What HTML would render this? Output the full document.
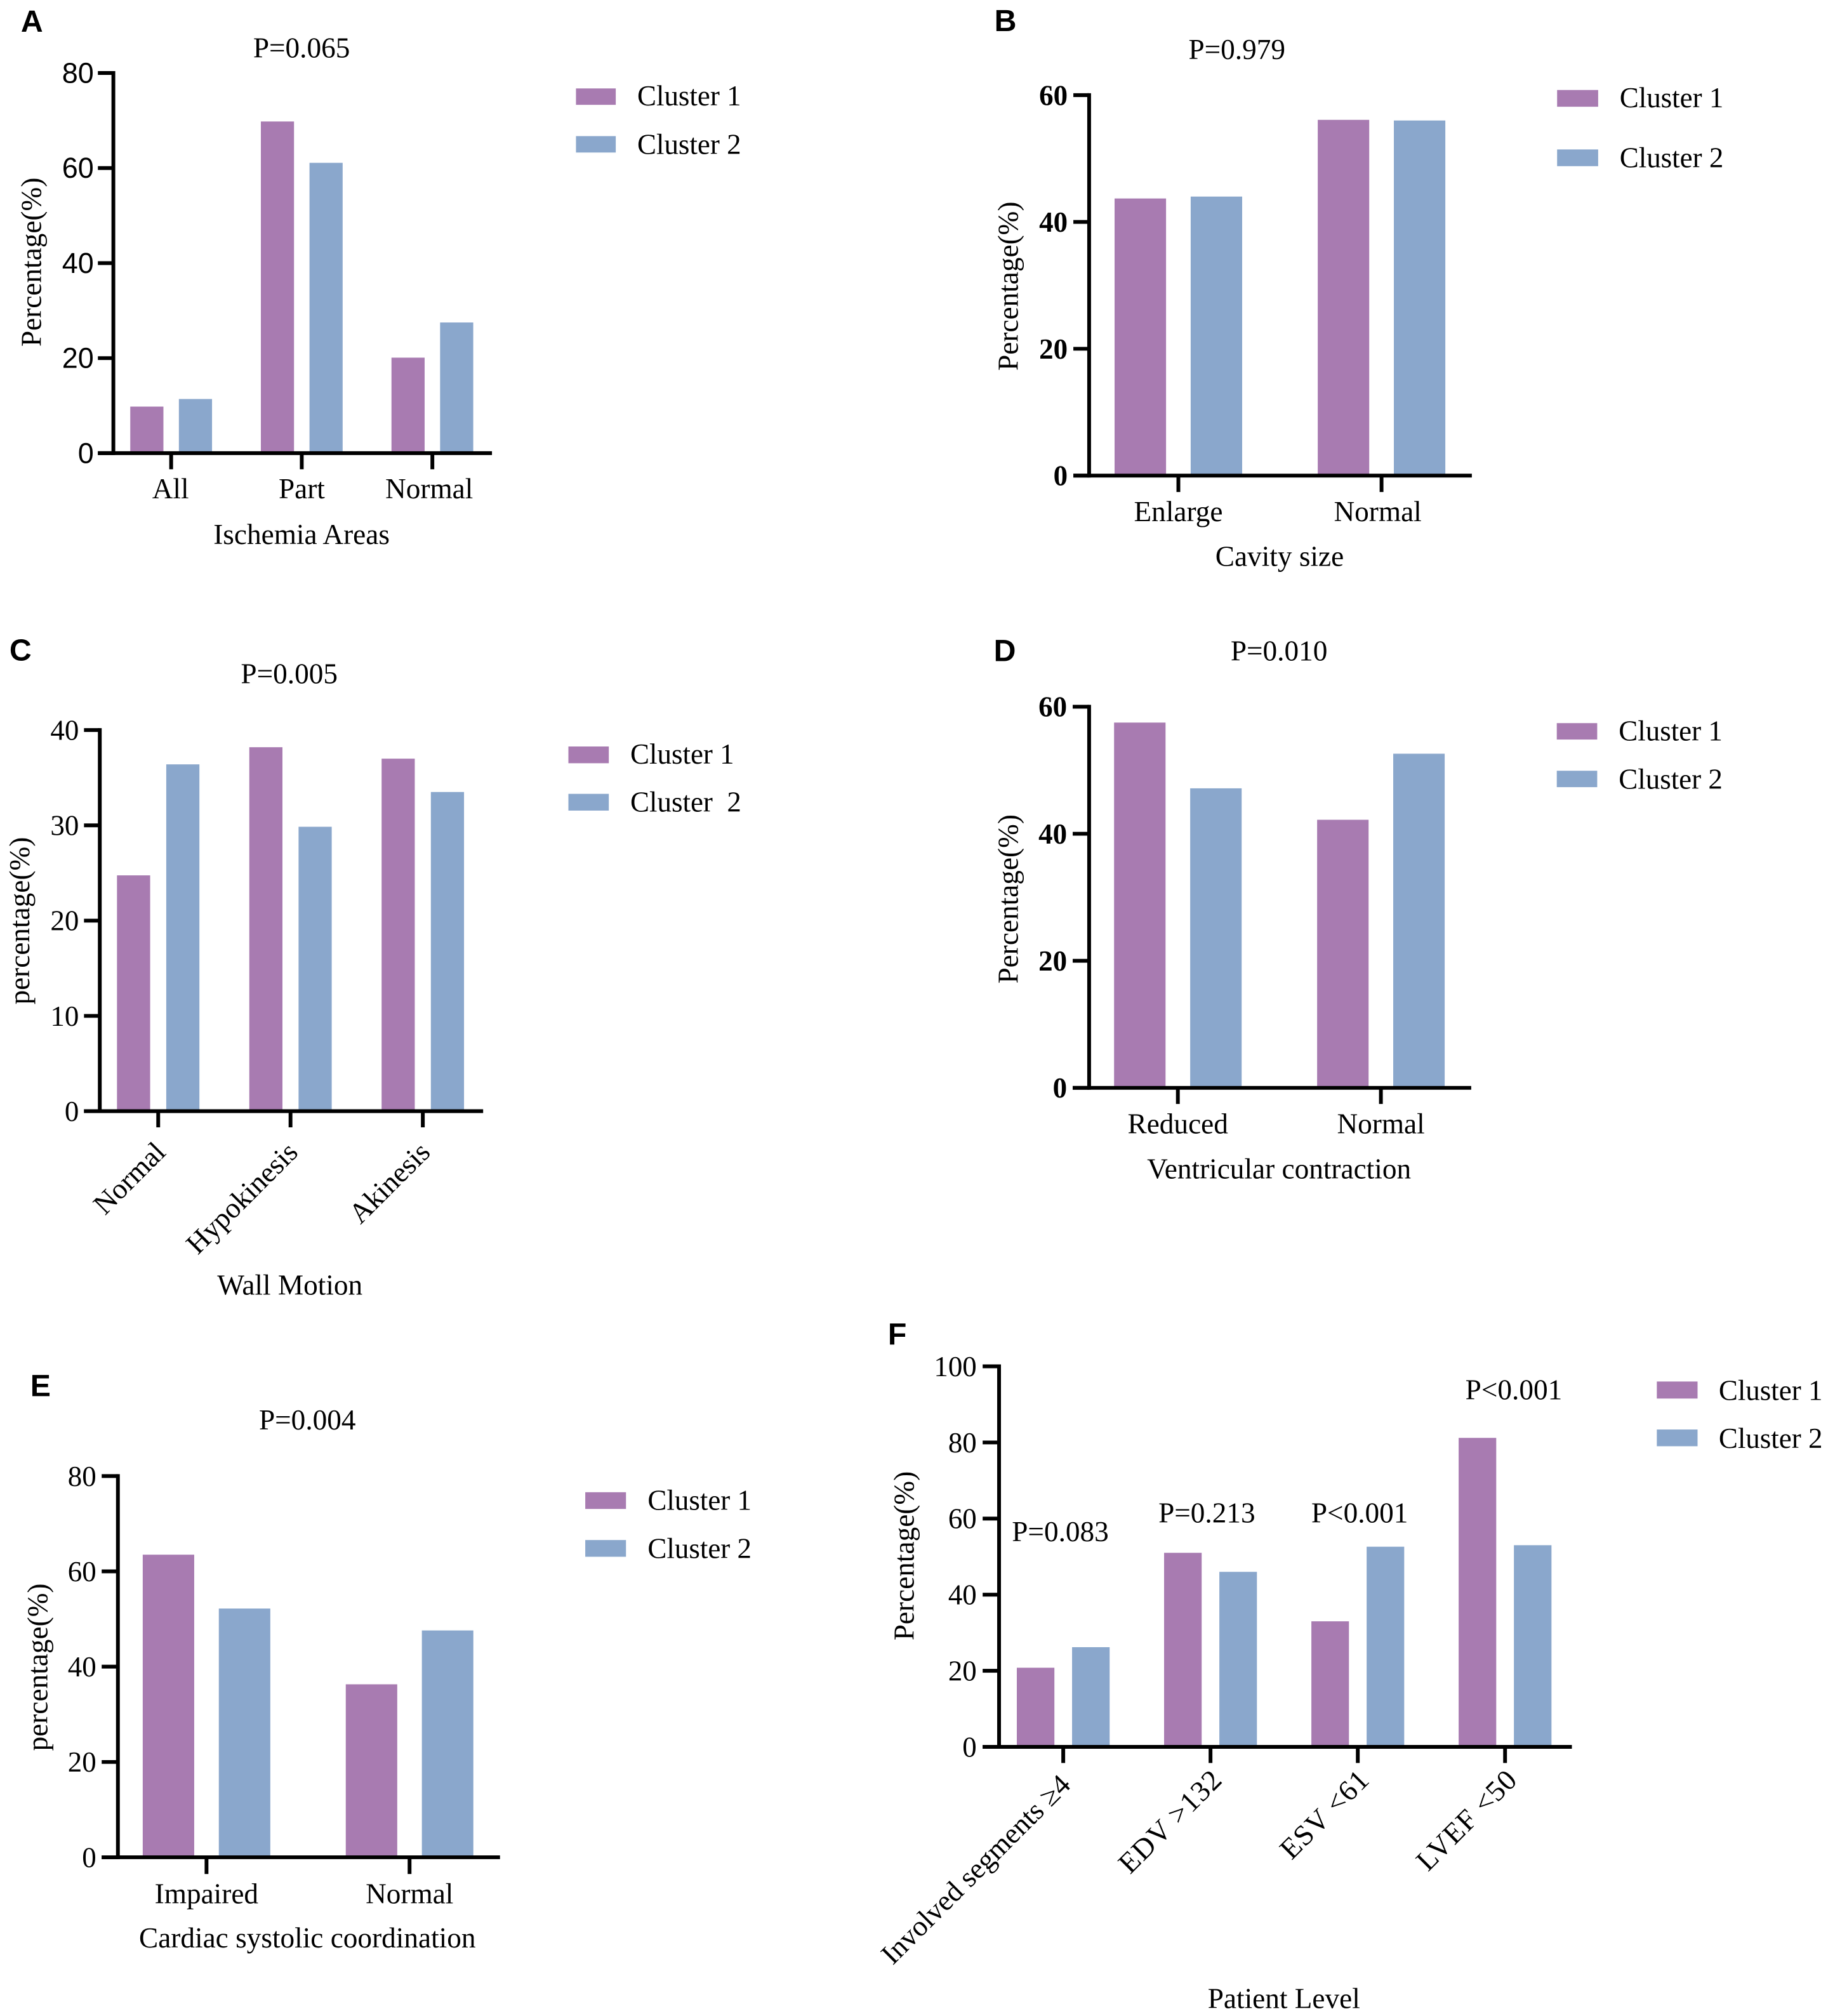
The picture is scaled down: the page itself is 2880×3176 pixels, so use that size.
<!DOCTYPE html>
<html lang="en">
<head>
<meta charset="utf-8">
<title>Cluster comparison charts</title>
<style>
html,body{margin:0;padding:0;background:#fff;}
svg{display:block;}
text{font-family:"Liberation Serif",serif;fill:#000;}
.sans{font-family:"Liberation Sans",sans-serif;}
</style>
</head>
<body>
<svg id="figure" xmlns="http://www.w3.org/2000/svg" width="2880" height="3176" viewBox="0 0 2880 3176"></svg>
<script>
// ---- Data ----
const categoriesA = ["All", "Part", "Normal"];
const cluster1A = [9.8, 69.8, 20.1];
const cluster2A = [11.4, 61.1, 27.5];
const ticksA = [0, 20, 40, 60, 80];

const categoriesB = ["Enlarge", "Normal"];
const cluster1B = [43.7, 56.1];
const cluster2B = [44.0, 56.0];
const ticksB = [0, 20, 40, 60];

const categoriesC = ["Normal", "Hypokinesis", "Akinesis"];
const cluster1C = [24.75, 38.2, 37.0];
const cluster2C = [36.4, 29.85, 33.5];
const ticksC = [0, 10, 20, 30, 40];

const categoriesD = ["Reduced", "Normal"];
const cluster1D = [57.5, 42.2];
const cluster2D = [47.15, 52.6];
const ticksD = [0, 20, 40, 60];

const categoriesE = ["Impaired", "Normal"];
const cluster1E = [63.5, 36.3];
const cluster2E = [52.2, 47.6];
const ticksE = [0, 20, 40, 60, 80];

const categoriesF = ["Involved segments \u22654", "EDV >132", "ESV <61", "LVEF <50"];
const cluster1F = [20.8, 51.0, 33.0, 81.2];
const cluster2F = [26.2, 46.0, 52.6, 53.0];
const ticksF = [0, 20, 40, 60, 80, 100];

// ---- Layout ----
const PURPLE = "#a87bb1";
const BLUE = "#8aa7cc";
const AXIS_W = 6;
const SCALE = 0.995;
const NS = "http://www.w3.org/2000/svg";
const root = document.getElementById("figure");

function mk(parent, tag, attrs, txt) {
  const el = document.createElementNS(NS, tag);
  for (const k in attrs) el.setAttribute(k, attrs[k]);
  if (txt !== undefined) el.textContent = txt;
  parent.appendChild(el);
  return el;
}

function drawPanel(p) {
  const ox = p.origin[0], oy = p.origin[1];
  const g = mk(root, "g", {transform: "translate(" + ox + " " + oy + ") scale(" + SCALE + ") translate(" + (-ox) + " " + (-oy) + ")"});
  
  

  // Axis functions
  const yMax = p.ticks[p.ticks.length - 1];
  const yScale = v => p.y0 - (v / yMax) * (p.y0 - p.yTop);
  const xScale = i => p.c0 + i * p.step;

  // Panel letter
  const letter = mk(g, "text", {x: p.letter[0], y: p.letter[1], "class": "sans", "font-size": 48.5, "font-weight": "bold"}, p.id.toUpperCase());
  
  

  // Bars
  [p.s1, p.s2].forEach((series, s) => {
    series.forEach((v, i) => {
      const left = xScale(i) + (s - 0.5) * p.pair - p.barW / 2;
      const r = mk(g, "rect", {x: left, y: yScale(v), width: p.barW, height: p.y0 - yScale(v), fill: s ? BLUE : PURPLE});
      
      
    });
  });

  // Axis lines
  const yAxis = mk(g, "line", {x1: p.xAxis, x2: p.xAxis, y1: yScale(yMax) - AXIS_W / 2, y2: p.y0 + AXIS_W / 2, stroke: "#000", "stroke-width": AXIS_W});
  
  
  const xAxis = mk(g, "line", {x1: p.tickL, x2: p.xEnd, y1: p.y0, y2: p.y0, stroke: "#000", "stroke-width": AXIS_W});
  
  

  // Y ticks
  p.ticks.forEach(t => {
    const tk = mk(g, "line", {x1: p.tickL, x2: p.xAxis, y1: yScale(t), y2: yScale(t), stroke: "#000", "stroke-width": AXIS_W});
    
    
    const lb = mk(g, "text", Object.assign({x: p.tickLabelX, y: yScale(t) + p.tickLabelDy, "text-anchor": "end", "font-size": 45.2}, p.tickAttrs || {}), String(t));
    
    
  });

  // X ticks + labels
  p.categories.forEach((c, i) => {
    const tx = xScale(i);
    const tk = mk(g, "line", {x1: tx, x2: tx, y1: p.y0, y2: p.xTickEnd, stroke: "#000", "stroke-width": AXIS_W});
    
    
    let lb;
    if (p.rotate) {
      const lx = tx + p.rotDx[i], ly = p.rotY[i];
      lb = mk(g, "text", {x: lx, y: ly, "text-anchor": "end", "font-size": p.rotSize[i], "letter-spacing": p.rotSpacing[i], transform: "rotate(-45 " + lx + " " + ly + ")"}, c);
    } else {
      lb = mk(g, "text", {x: tx + (p.catDx ? p.catDx[i] : 0), y: p.catY, "text-anchor": "middle", "font-size": 45.5}, c);
    }
    
    
  });

  // X title
  const xt = mk(g, "text", {x: p.xTitle[0], y: p.xTitle[1], "text-anchor": "middle", "font-size": 45.5}, p.xTitleText);
  
  

  // Y title
  const yt = mk(g, "text", {x: 0, y: 0, "text-anchor": "middle", "font-size": 45.5, transform: "translate(" + p.yTitle[0] + " " + p.yTitle[1] + ") rotate(-90)"}, p.yTitleText);
  
  

  // P-values
  p.pvals.forEach(pv => {
    const t = mk(g, "text", {x: pv[1], y: pv[2], "text-anchor": "middle", "font-size": 45.5}, pv[0]);
    
    
  });

  // Legend
  p.legend.forEach((row, s) => {
    const sw = mk(g, "rect", {x: p.legendX, y: row[0], width: p.legendW, height: row[1], fill: s ? BLUE : PURPLE});
    
    
    const t = mk(g, "text", {x: p.legendTextX, y: row[2], "font-size": 45.2}, row[3]);
    
    
  });
}

drawPanel({
  id: "a", origin: [0, 0], categories: categoriesA, s1: cluster1A, s2: cluster2A, ticks: ticksA,
  letter: [33, 50.5], xAxis: 179.5, y0: 717.5, yTop: 115.6, tickL: 155, xEnd: 779, xTickEnd: 743,
  c0: 271, step: 206.8, barW: 52.5, pair: 77, tickLabelX: 148.5, tickLabelDy: 15.5,
  tickAttrs: {"class": "sans"}, catY: 789, catDx: [-1, 0, -5],
  xTitle: [477.5, 861.5], xTitleText: "Ischemia Areas", yTitle: [65, 415], yTitleText: "Percentage(%)",
  pvals: [["P=0.065", 477.5, 91]], legendX: 912, legendW: 63, legendTextX: 1009,
  legend: [[140, 26, 167, "Cluster 1"], [215.5, 26, 243.5, "Cluster 2"]]
});

drawPanel({
  id: "b", origin: [1500, 0], categories: categoriesB, s1: cluster1B, s2: cluster2B, ticks: ticksB,
  letter: [1567, 49], xAxis: 1717, y0: 753, yTop: 150.6, tickL: 1692, xEnd: 2323, xTickEnd: 779,
  c0: 1858.3, step: 321.7, barW: 81.5, pair: 120.5, tickLabelX: 1683, tickLabelDy: 15.5,
  tickAttrs: {"font-weight": "bold"}, catY: 825, catDx: [0, -6],
  xTitle: [2018.6, 896], xTitleText: "Cavity size", yTitle: [1604, 453], yTitleText: "Percentage(%)",
  pvals: [["P=0.979", 1951, 93.5]], legendX: 2458, legendW: 65, legendTextX: 2557,
  legend: [[142.5, 26.5, 170, "Cluster 1"], [236.6, 26.5, 265, "Cluster 2"]]
});

drawPanel({
  id: "c", origin: [0, 980], categories: categoriesC, s1: cluster1C, s2: cluster2C, ticks: ticksC,
  letter: [15, 1041], xAxis: 158, y0: 1754.4, yTop: 1151, tickL: 133, xEnd: 765, xTickEnd: 1780,
  c0: 250.5, step: 209.5, barW: 52.5, pair: 78, tickLabelX: 125, tickLabelDy: 15.5,
  rotate: true, rotDx: [14, 14, 14], rotY: [1822, 1822, 1822], rotSize: [45.5, 45.5, 45.5], rotSpacing: [0, 0, 0],
  xTitle: [459, 2045], xTitleText: "Wall Motion", yTitle: [46, 1453], yTitleText: "percentage(%)",
  pvals: [["P=0.005", 458, 1077]], legendX: 900, legendW: 64, legendTextX: 998,
  legend: [[1177, 26.5, 1204, "Cluster 1"], [1252, 26.5, 1280, "Cluster \u00a02"]]
});

drawPanel({
  id: "d", origin: [1500, 980], categories: categoriesD, s1: cluster1D, s2: cluster2D, ticks: ticksD,
  letter: [1566, 1042], xAxis: 1717, y0: 1717.5, yTop: 1114, tickL: 1691, xEnd: 2322, xTickEnd: 1743,
  c0: 1857.5, step: 321.5, barW: 81.5, pair: 120.5, tickLabelX: 1682, tickLabelDy: 15.5,
  tickAttrs: {"font-weight": "bold"}, catY: 1789.6,
  xTitle: [2017.7, 1861], xTitleText: "Ventricular contraction", yTitle: [1604, 1418.5], yTitleText: "Percentage(%)",
  pvals: [["P=0.010", 2017.7, 1040.6]], legendX: 2457.5, legendW: 64, legendTextX: 2555.5,
  legend: [[1140, 26, 1167.5, "Cluster 1"], [1215.4, 26, 1243.7, "Cluster 2"]]
});

drawPanel({
  id: "e", origin: [0, 2120], categories: categoriesE, s1: cluster1E, s2: cluster2E, ticks: ticksE,
  letter: [48, 2200], xAxis: 186.7, y0: 2930, yTop: 2326.4, tickL: 161, xEnd: 791.7, xTickEnd: 2956.5,
  c0: 327, step: 321.5, barW: 81.5, pair: 120.5, tickLabelX: 152.5, tickLabelDy: 15.5,
  catY: 3002.7,
  xTitle: [486.7, 3073], xTitleText: "Cardiac systolic coordination", yTitle: [75, 2629], yTitleText: "percentage(%)",
  pvals: [["P=0.004", 486.7, 2252.7]], legendX: 926.7, legendW: 64.5, legendTextX: 1025.5,
  legend: [[2352, 26.5, 2379.6, "Cluster 1"], [2427.7, 26.5, 2456, "Cluster 2"]]
});

drawPanel({
  id: "f", origin: [1380, 2060], categories: categoriesF, s1: cluster1F, s2: cluster2F, ticks: ticksF,
  letter: [1399, 2118.5], xAxis: 1575, y0: 2755.5, yTop: 2153, tickL: 1549, xEnd: 2482, xTickEnd: 2781,
  c0: 1676.6, step: 233.2, barW: 59.5, pair: 87.5, tickLabelX: 1539.6, tickLabelDy: 15.5,
  rotate: true, rotDx: [14, 21, 21, 22], rotY: [2818, 2810, 2810, 2810], rotSize: [45.5, 46, 46, 46], rotSpacing: [0, 1.2, 1.2, 1.2],
  xTitle: [2026, 3169], xTitleText: "Patient Level", yTitle: [1440, 2453], yTitleText: "Percentage(%)",
  pvals: [["P=0.083", 1672, 2430], ["P=0.213", 1904, 2400], ["P<0.001", 2146, 2400], ["P<0.001", 2390, 2205]],
  legendX: 2616.5, legendW: 64.5, legendTextX: 2714.5,
  legend: [[2177, 27, 2206, "Cluster 1"], [2253, 26.5, 2282, "Cluster 2"]]
});
</script>
</body>
</html>
